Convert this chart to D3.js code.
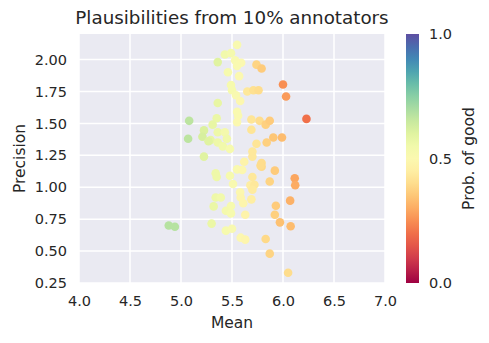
<!DOCTYPE html>
<html>
<head>
<meta charset="utf-8">
<script src="https://cdn.jsdelivr.net/npm/d3@7"></script>
<style>
  body { margin: 0; background: #fff; }
  text { font-family: "DejaVu Sans", sans-serif; fill: #262626; }
</style>
</head>
<body>
<div id="chart"></div>
<script>
// values
var means = [5.55, 5.43, 5.49, 5.36, 5.53, 5.59, 5.55, 5.46, 5.57, 5.74,
             5.79, 5.49, 5.50, 5.54, 5.58, 5.36, 5.65, 5.71, 5.76, 6.00,
             6.03, 5.55, 5.56, 5.55, 5.35, 5.31, 5.69, 5.77, 5.83, 5.87,
             6.23, 5.69, 5.36, 5.43, 5.29, 5.45, 5.36, 5.41, 5.48, 5.74,
             5.84, 5.905, 5.99, 5.70, 5.70, 5.62, 5.79, 5.79, 5.08, 5.07,
             5.225, 5.21, 5.27, 5.225, 5.34, 5.35, 5.48, 5.51, 5.55, 5.60,
             5.70, 5.68, 5.72, 5.70, 5.58, 5.585, 5.61, 5.69, 5.34, 5.39,
             5.32, 5.49, 5.44, 5.49, 5.63, 5.30, 5.44, 5.50, 5.585, 5.63,
             5.83, 5.87, 4.88, 4.94, 5.78, 5.92, 5.87, 6.115, 6.12, 6.07,
             5.93, 5.92, 5.97, 6.075, 6.05];
var precisions = [2.115, 2.04, 2.05, 1.98, 1.995, 1.975, 1.95, 1.90, 1.87, 1.96,
                  1.93, 1.80, 1.76, 1.72, 1.675, 1.66, 1.75, 1.76, 1.76, 1.805,
                  1.71, 1.59, 1.56, 1.51, 1.54, 1.49, 1.53, 1.52, 1.49, 1.52,
                  1.535, 1.45, 1.43, 1.43, 1.37, 1.38, 1.35, 1.32, 1.30, 1.34,
                  1.35, 1.39, 1.39, 1.28, 1.24, 1.20, 1.19, 1.16, 1.52, 1.38,
                  1.445, 1.395, 1.36, 1.24, 1.11, 1.08, 1.09, 1.025, 1.14, 1.135,
                  1.08, 1.015, 1.02, 0.98, 0.96, 0.92, 0.875, 0.905, 0.92, 0.92,
                  0.85, 0.853, 0.816, 0.795, 0.785, 0.715, 0.66, 0.675, 0.605, 0.59,
                  0.595, 0.48, 0.70, 0.69, 1.17, 1.13, 1.045, 1.07, 1.015, 0.895,
                  0.855, 0.785, 0.725, 0.695, 0.33];
var probGood = [0.52, 0.55, 0.54, 0.60, 0.52, 0.50, 0.51, 0.53, 0.50, 0.38,
                0.36, 0.53, 0.53, 0.52, 0.49, 0.58, 0.43, 0.41, 0.40, 0.25,
                0.27, 0.51, 0.51, 0.50, 0.57, 0.58, 0.42, 0.40, 0.37, 0.36,
                0.20, 0.42, 0.56, 0.54, 0.58, 0.55, 0.56, 0.55, 0.53, 0.42,
                0.37, 0.35, 0.33, 0.43, 0.43, 0.47, 0.40, 0.39, 0.67, 0.67,
                0.61, 0.62, 0.60, 0.60, 0.56, 0.56, 0.53, 0.52, 0.51, 0.49,
                0.43, 0.45, 0.43, 0.44, 0.49, 0.48, 0.48, 0.45, 0.56, 0.55,
                0.57, 0.53, 0.54, 0.53, 0.47, 0.57, 0.53, 0.52, 0.49, 0.48,
                0.39, 0.38, 0.68, 0.68, 0.40, 0.36, 0.38, 0.29, 0.30, 0.31,
                0.36, 0.37, 0.34, 0.33, 0.40];
var xTicks = [4.0, 4.5, 5.0, 5.5, 6.0, 6.5, 7.0];
var yTicks = [0.25, 0.50, 0.75, 1.00, 1.25, 1.50, 1.75, 2.00];
var cbTicks = [0.0, 0.5, 1.0];

var W = 489, H = 343;
var plotL = 79, plotR = 385, plotT = 34, plotB = 283;

var svg = d3.select("#chart").append("svg")
    .attr("width", W)
    .attr("height", H);

var x = d3.scaleLinear().domain([4, 7]).range([plotL, plotR]);
var y = d3.scaleLinear().domain([0.25, 2.2]).range([plotB, plotT]);
var c = d3.scaleSequential(d3.interpolateSpectral).domain([0, 1]);

// background + grid
svg.append("rect")
    .attr("x", plotL).attr("y", plotT)
    .attr("width", plotR - plotL).attr("height", plotB - plotT)
    .attr("fill", "#eaeaf2");

svg.append("g").selectAll("line")
    .data(xTicks)
    .enter().append("line")
    .attr("x1", function(d) { return x(d); })
    .attr("x2", function(d) { return x(d); })
    .attr("y1", plotT).attr("y2", plotB)
    .attr("stroke", "#fff").attr("stroke-width", 1.5);

svg.append("g").selectAll("line")
    .data(yTicks)
    .enter().append("line")
    .attr("y1", function(d) { return y(d); })
    .attr("y2", function(d) { return y(d); })
    .attr("x1", plotL).attr("x2", plotR)
    .attr("stroke", "#fff").attr("stroke-width", 1.5);

// axes (labels only, seaborn style)
var xAxis = svg.append("g")
    .attr("transform", "translate(0," + plotB + ")")
    .call(d3.axisBottom(x).tickValues(xTicks).tickFormat(d3.format(".1f")).tickSize(0).tickPadding(13));
var yAxis = svg.append("g")
    .attr("transform", "translate(" + plotL + ",0)")
    .call(d3.axisLeft(y).tickValues(yTicks).tickFormat(d3.format(".2f")).tickSize(0).tickPadding(12));
[xAxis, yAxis].forEach(function(a) {
    a.select(".domain").remove();
    a.selectAll("text")
        .attr("font-size", 14.5)
        .attr("font-family", "DejaVu Sans, sans-serif")
        .attr("fill", "#262626");
});

// points
svg.append("g").selectAll("circle")
    .data(means.map(function(m, i) { return {m: m, p: precisions[i], g: probGood[i]}; }))
    .enter().append("circle")
    .attr("cx", function(d) { return x(d.m); })
    .attr("cy", function(d) { return y(d.p); })
    .attr("r", 4.3)
    .attr("fill", function(d) { return c(d.g); });

// titles
svg.append("text")
    .attr("x", (plotL + plotR) / 2).attr("y", 24)
    .attr("text-anchor", "middle")
    .attr("font-size", 18.3)
    .text("Plausibilities from 10% annotators");
svg.append("text")
    .attr("x", (plotL + plotR) / 2).attr("y", 328)
    .attr("text-anchor", "middle")
    .attr("font-size", 15.5)
    .text("Mean");
svg.append("text")
    .attr("transform", "translate(25," + ((plotT + plotB) / 2) + ") rotate(-90)")
    .attr("text-anchor", "middle")
    .attr("font-size", 15.5)
    .text("Precision");

// colorbar
var cbX = 406, cbW = 13;
var grad = svg.append("defs").append("linearGradient")
    .attr("id", "cbgrad")
    .attr("x1", "0").attr("y1", "1").attr("x2", "0").attr("y2", "0");
d3.range(0, 1.0001, 0.05).forEach(function(t) {
    grad.append("stop").attr("offset", t).attr("stop-color", c(t));
});
svg.append("rect")
    .attr("x", cbX).attr("y", plotT)
    .attr("width", cbW).attr("height", plotB - plotT)
    .attr("fill", "url(#cbgrad)");

var cy = d3.scaleLinear().domain([0, 1]).range([plotB, plotT]);
var cbAxis = svg.append("g")
    .attr("transform", "translate(" + (cbX + cbW) + ",0)")
    .call(d3.axisRight(cy).tickValues(cbTicks).tickFormat(d3.format(".1f")).tickSize(0).tickPadding(10));
cbAxis.select(".domain").remove();
cbAxis.selectAll("text")
    .attr("font-size", 14.5)
    .attr("font-family", "DejaVu Sans, sans-serif")
    .attr("fill", "#262626");

svg.append("text")
    .attr("transform", "translate(474," + ((plotT + plotB) / 2) + ") rotate(-90)")
    .attr("text-anchor", "middle")
    .attr("font-size", 15.5)
    .text("Prob. of good");
</script>
</body>
</html>
